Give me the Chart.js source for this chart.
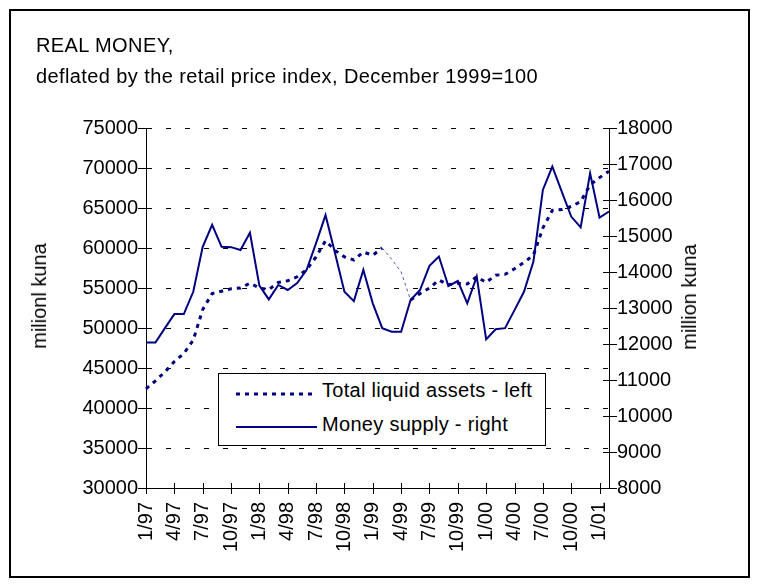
<!DOCTYPE html>
<html>
<head>
<meta charset="utf-8">
<title>Real money</title>
<script src="https://cdn.jsdelivr.net/npm/chart.js@4.4.1/dist/chart.umd.min.js"></script>
<style>
  body {
    margin: 0;
    background: #fff;
    font-family: "Liberation Sans", Arial, sans-serif;
    color: #000;
  }

  #wrap {
    position: relative;
    width: 760px;
    height: 585px;
  }

  #frame {
    position: absolute;
    left: 9px;
    top: 9px;
    width: 741px;
    height: 569px;
    box-sizing: border-box;
    border: 2px solid #000;
    pointer-events: none;
  }

  .title {
    position: absolute;
    left: 36px;
    font-size: 20px;
    line-height: 24px;
    letter-spacing: 0.4px;
    white-space: nowrap;
  }

  .axis-title {
    position: absolute;
    font-size: 20px;
    line-height: 24px;
    white-space: nowrap;
    transform: translate(-50%, -50%) rotate(-90deg);
  }

  #legend {
    position: absolute;
    left: 218px;
    top: 373px;
    width: 328px;
    height: 73px;
    box-sizing: border-box;
    border: 1px solid #000;
    background: #fff;
  }

  #legend svg,
  #legend span {
    position: absolute;
  }

  #legend span {
    left: 103px;
    font-size: 20px;
    line-height: 24px;
    letter-spacing: 0.3px;
    white-space: nowrap;
  }
</style>
</head>
<body>
<div id="wrap">
  <canvas id="moneyChart" width="760" height="585"></canvas>

  <div class="title" style="top: 33px;">REAL MONEY,</div>
  <div class="title" style="top: 64px;">deflated by the retail price index, December 1999=100</div>

  <div class="axis-title" style="left: 39px; top: 296px;">milionl kuna</div>
  <div class="axis-title" style="left: 689px; top: 297px;">million kuna</div>

  <div id="legend">
    <svg width="82" height="6" style="left: 17px; top: 17px;">
      <line x1="0" y1="3" x2="81" y2="3" stroke="#000080" stroke-width="3" stroke-dasharray="4 5"></line>
    </svg>
    <span style="top: 4px;">Total liquid assets - left</span>
    <svg width="82" height="6" style="left: 17px; top: 50px;">
      <line x1="0" y1="3" x2="81" y2="3" stroke="#000080" stroke-width="2"></line>
    </svg>
    <span style="top: 38px;">Money supply - right</span>
  </div>

  <div id="frame"></div>
</div>

<script>
const monthLabels = [
  "1/97", "2/97", "3/97", "4/97", "5/97", "6/97", "7/97", "8/97", "9/97", "10/97", "11/97", "12/97",
  "1/98", "2/98", "3/98", "4/98", "5/98", "6/98", "7/98", "8/98", "9/98", "10/98", "11/98", "12/98",
  "1/99", "2/99", "3/99", "4/99", "5/99", "6/99", "7/99", "8/99", "9/99", "10/99", "11/99", "12/99",
  "1/00", "2/00", "3/00", "4/00", "5/00", "6/00", "7/00", "8/00", "9/00", "10/00", "11/00", "12/00",
  "1/01", "2/01"
];

// million kuna, left axis
const totalLiquidAssets = [
  42400, 43400, 44500, 45800, 46800, 48500, 52300, 54300, 54600, 54900, 55000, 55600,
  55000, 54800, 55700, 55900, 56400, 57300, 58900, 60900, 59700, 58900, 58500, 59500,
  59100, 60000, 58600, 57000, 53500, 54300, 55000, 56000, 55400, 55600, 55500, 56400,
  55700, 56600, 56700, 57400, 58200, 59100, 62500, 64700, 64800, 65200, 65800, 67900,
  68800, 69600
];

// million kuna, right axis
const moneySupply = [
  12040, 12040, 12440, 12830, 12830, 13450, 14700, 15310, 14700, 14690, 14610, 15090,
  13620, 13240, 13640, 13500, 13690, 14060, 14800, 15580, 14530, 13450, 13190, 14060,
  13130, 12440, 12340, 12340, 13220, 13500, 14170, 14430, 13610, 13750, 13130, 13870,
  12130, 12410, 12440, 12940, 13450, 14290, 16280, 16930, 16230, 15540, 15240, 16740,
  15510, 15680
];

const leftAxisRange = [30000, 75000, 5000];
const rightAxisRange = [8000, 18000, 1000];

const navy = "#000080";

Chart.defaults.font.family = "'Liberation Sans', Arial, sans-serif";
Chart.defaults.color = "#000";

// the thin stretch of the dotted line, spring 1999
function isThinSegment(context) {
  return context.p0DataIndex >= 25 && context.p1DataIndex <= 28;
}

// tick marks that cross the axis lines, as in the original
const crossTicks = {
  id: "crossTicks",
  afterDatasetsDraw(chart) {
    const { ctx, chartArea, scales } = chart;

    ctx.save();
    ctx.strokeStyle = "#000";
    ctx.lineWidth = 1;
    ctx.beginPath();

    scales.x.ticks.forEach((tick, index) => {
      if (!tick.label) {
        return;
      }
      const x = Math.round(scales.x.getPixelForTick(index)) + 0.5;
      ctx.moveTo(x, chartArea.bottom - 5);
      ctx.lineTo(x, chartArea.bottom + 6);
    });

    scales.y.ticks.forEach((tick, index) => {
      const y = Math.round(scales.y.getPixelForTick(index)) + 0.5;
      ctx.moveTo(chartArea.left - 8, y);
      ctx.lineTo(chartArea.left + 5, y);
    });

    scales.y1.ticks.forEach((tick, index) => {
      const y = Math.round(scales.y1.getPixelForTick(index)) + 0.5;
      ctx.moveTo(chartArea.right - 6, y);
      ctx.lineTo(chartArea.right + 8, y);
    });

    ctx.stroke();
    ctx.restore();
  }
};

new Chart(document.getElementById("moneyChart"), {
  type: "line",
  data: {
    labels: monthLabels,
    datasets: [
      {
        label: "Total liquid assets - left",
        data: totalLiquidAssets,
        yAxisID: "y",
        borderColor: navy,
        borderWidth: 3,
        borderDash: [4, 5],
        borderCapStyle: "butt",
        pointRadius: 0,
        tension: 0,
        fill: false,
        segment: {
          borderWidth: (context) => (isThinSegment(context) ? 1 : undefined),
          borderDash: (context) => (isThinSegment(context) ? [3, 3] : undefined),
          borderColor: (context) => (isThinSegment(context) ? "#5555aa" : undefined)
        }
      },
      {
        label: "Money supply - right",
        data: moneySupply,
        yAxisID: "y1",
        borderColor: navy,
        borderWidth: 2,
        pointRadius: 0,
        tension: 0,
        fill: false
      }
    ]
  },
  options: {
    responsive: false,
    animation: false,
    layout: {
      padding: { top: 128, left: 0, right: 0, bottom: 0 }
    },
    plugins: {
      legend: { display: false },
      tooltip: { enabled: false }
    },
    scales: {
      x: {
        type: "category",
        offset: false,
        afterFit(scale) {
          scale.height = 97;
        },
        grid: { display: false, drawTicks: false },
        border: { display: true, color: "#000", width: 1 },
        ticks: {
          autoSkip: false,
          maxRotation: 90,
          minRotation: 90,
          padding: 14,
          font: { size: 20 },
          callback: function (value, index) {
            return index % 3 === 0 ? this.getLabelForValue(value) : "";
          }
        }
      },
      y: {
        position: "left",
        min: leftAxisRange[0],
        max: leftAxisRange[1],
        afterFit(scale) {
          scale.width = 146;
        },
        grid: {
          color: "#000",
          lineWidth: 1,
          drawTicks: false
        },
        border: { display: true, color: "#000", width: 1, dash: [5, 14] },
        ticks: {
          stepSize: leftAxisRange[2],
          padding: 8,
          font: { size: 20 },
          callback: (value) => String(value)
        }
      },
      y1: {
        position: "right",
        min: rightAxisRange[0],
        max: rightAxisRange[1],
        afterFit(scale) {
          scale.width = 151;
        },
        grid: { display: false, drawTicks: false },
        border: { display: true, color: "#000", width: 1 },
        ticks: {
          stepSize: rightAxisRange[2],
          padding: 8,
          font: { size: 20 },
          callback: (value) => String(value)
        }
      }
    }
  },
  plugins: [crossTicks]
});
</script>
</body>
</html>
